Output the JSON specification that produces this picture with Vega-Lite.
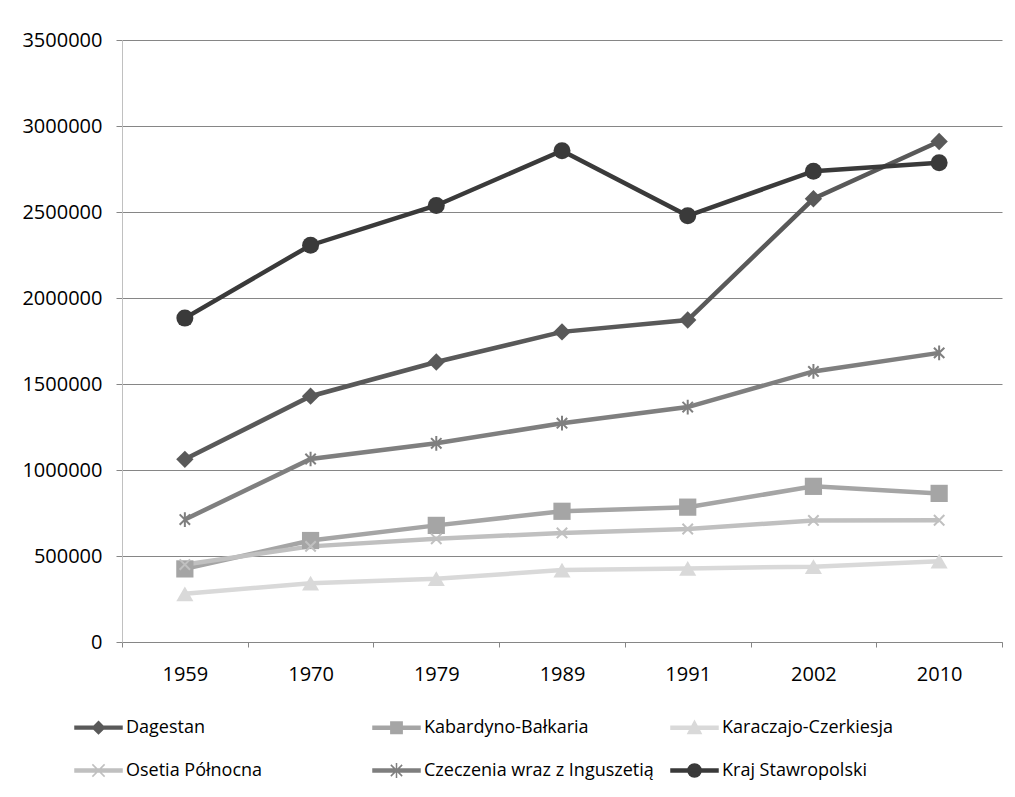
{
  "$schema": "https://vega.github.io/schema/vega-lite/v6.json",
  "width": 880,
  "height": 602,
  "autosize": "none",
  "padding": {"left": 122, "top": 40, "right": 13, "bottom": 155},
  "background": "white",
  "config": {
    "view": {"stroke": null},
    "font": "Open Sans",
    "axis": {"labelFont": "Open Sans", "labelFontSize": 20, "labelColor": "#000000", "title": null},
    "legend": {"labelFont": "Open Sans", "labelFontSize": 18, "labelColor": "#000000", "labelLimit": 400}
  },
  "data": {
    "values": [
      {"year": "1959", "region": "Dagestan", "value": 1062000},
      {"year": "1970", "region": "Dagestan", "value": 1429000},
      {"year": "1979", "region": "Dagestan", "value": 1628000},
      {"year": "1989", "region": "Dagestan", "value": 1803000},
      {"year": "1991", "region": "Dagestan", "value": 1872000},
      {"year": "2002", "region": "Dagestan", "value": 2577000},
      {"year": "2010", "region": "Dagestan", "value": 2910000},
      {"year": "1959", "region": "Kabardyno-Bałkaria", "value": 425000},
      {"year": "1970", "region": "Kabardyno-Bałkaria", "value": 590000},
      {"year": "1979", "region": "Kabardyno-Bałkaria", "value": 678000},
      {"year": "1989", "region": "Kabardyno-Bałkaria", "value": 760000},
      {"year": "1991", "region": "Kabardyno-Bałkaria", "value": 784000},
      {"year": "2002", "region": "Kabardyno-Bałkaria", "value": 905000},
      {"year": "2010", "region": "Kabardyno-Bałkaria", "value": 864000},
      {"year": "1959", "region": "Karaczajo-Czerkiesja", "value": 280000},
      {"year": "1970", "region": "Karaczajo-Czerkiesja", "value": 342000},
      {"year": "1979", "region": "Karaczajo-Czerkiesja", "value": 368000},
      {"year": "1989", "region": "Karaczajo-Czerkiesja", "value": 418000},
      {"year": "1991", "region": "Karaczajo-Czerkiesja", "value": 428000},
      {"year": "2002", "region": "Karaczajo-Czerkiesja", "value": 438000},
      {"year": "2010", "region": "Karaczajo-Czerkiesja", "value": 470000},
      {"year": "1959", "region": "Osetia Północna", "value": 450000},
      {"year": "1970", "region": "Osetia Północna", "value": 556000},
      {"year": "1979", "region": "Osetia Północna", "value": 600000},
      {"year": "1989", "region": "Osetia Północna", "value": 634000},
      {"year": "1991", "region": "Osetia Północna", "value": 657000},
      {"year": "2002", "region": "Osetia Północna", "value": 707000},
      {"year": "2010", "region": "Osetia Północna", "value": 708000},
      {"year": "1959", "region": "Czeczenia wraz z Inguszetią", "value": 712000},
      {"year": "1970", "region": "Czeczenia wraz z Inguszetią", "value": 1064000},
      {"year": "1979", "region": "Czeczenia wraz z Inguszetią", "value": 1155000},
      {"year": "1989", "region": "Czeczenia wraz z Inguszetią", "value": 1272000},
      {"year": "1991", "region": "Czeczenia wraz z Inguszetią", "value": 1366000},
      {"year": "2002", "region": "Czeczenia wraz z Inguszetią", "value": 1573000},
      {"year": "2010", "region": "Czeczenia wraz z Inguszetią", "value": 1681000},
      {"year": "1959", "region": "Kraj Stawropolski", "value": 1883000},
      {"year": "1970", "region": "Kraj Stawropolski", "value": 2307000},
      {"year": "1979", "region": "Kraj Stawropolski", "value": 2538000},
      {"year": "1989", "region": "Kraj Stawropolski", "value": 2856000},
      {"year": "1991", "region": "Kraj Stawropolski", "value": 2478000},
      {"year": "2002", "region": "Kraj Stawropolski", "value": 2737000},
      {"year": "2010", "region": "Kraj Stawropolski", "value": 2786000}
    ]
  },
  "encoding": {
    "x": {
      "field": "year", "type": "ordinal", "bandPosition": 0.5,
      "scale": {"type": "band", "paddingInner": 0, "paddingOuter": 0},
      "axis": {"labelAngle": 0, "tickBand": "extent", "tickSize": 5, "tickColor": "#868686", "domainColor": "#868686", "labelPadding": 17, "grid": false}
    },
    "y": {
      "field": "value", "type": "quantitative",
      "scale": {"domain": [0, 3500000], "nice": false},
      "axis": {"values": [0, 500000, 1000000, 1500000, 2000000, 2500000, 3000000, 3500000], "format": "d", "grid": true, "gridColor": "#868686", "gridWidth": 1, "domainColor": "#c0c0c0", "tickColor": "#868686", "tickSize": 6, "labelPadding": 14}
    }
  },
  "layer": [
    {
      "mark": {"type": "line", "strokeWidth": 4.5},
      "encoding": {
        "color": {
          "field": "region", "type": "nominal", "legend": null,
          "scale": {
            "domain": ["Dagestan", "Kabardyno-Bałkaria", "Karaczajo-Czerkiesja", "Osetia Północna", "Czeczenia wraz z Inguszetią", "Kraj Stawropolski"],
            "range": ["#595959", "#a5a5a5", "#d9d9d9", "#c0c0c0", "#7f7f7f", "#3a3a3a"]
          }
        }
      }
    },
    {
      "transform": [{"filter": {"field": "region", "oneOf": ["Dagestan", "Kabardyno-Bałkaria", "Karaczajo-Czerkiesja", "Kraj Stawropolski"]}}],
      "mark": {"type": "point", "filled": true, "opacity": 1},
      "encoding": {
        "color": {"field": "region", "type": "nominal", "legend": null},
        "shape": {
          "field": "region", "type": "nominal", "legend": null,
          "scale": {
            "domain": ["Dagestan", "Kabardyno-Bałkaria", "Karaczajo-Czerkiesja", "Kraj Stawropolski"],
            "range": ["diamond", "square", "triangle-up", "circle"]
          }
        },
        "size": {
          "field": "region", "type": "nominal", "legend": null,
          "scale": {
            "domain": ["Dagestan", "Kabardyno-Bałkaria", "Karaczajo-Czerkiesja", "Kraj Stawropolski"],
            "range": [300, 289, 256, 324]
          }
        }
      }
    },
    {
      "transform": [{"filter": {"field": "region", "oneOf": ["Osetia Północna", "Czeczenia wraz z Inguszetią"]}}],
      "mark": {"type": "point", "filled": false, "strokeWidth": 2, "opacity": 1, "size": 300},
      "encoding": {
        "color": {"field": "region", "type": "nominal", "legend": null},
        "shape": {
          "field": "region", "type": "nominal", "legend": null,
          "scale": {
            "domain": ["Osetia Północna", "Czeczenia wraz z Inguszetią"],
            "range": ["M-0.6,-0.6L0.6,0.6M-0.6,0.6L0.6,-0.6", "M-0.6,-0.6L0.6,0.6M-0.6,0.6L0.6,-0.6M0,-0.85L0,0.85"]
          }
        }
      }
    },
    {
      "mark": {"type": "point", "filled": true, "opacity": 1, "size": 2209, "strokeWidth": 1.5, "clip": true},
      "encoding": {
        "y": {"datum": -1500000, "type": "quantitative"},
        "color": {"field": "region", "type": "nominal", "legend": null},
        "shape": {
          "field": "region", "type": "nominal",
          "scale": {
            "domain": ["Dagestan", "Kabardyno-Bałkaria", "Karaczajo-Czerkiesja", "Osetia Północna", "Czeczenia wraz z Inguszetią", "Kraj Stawropolski"],
            "range": [
              "M-1,-0.06L1,-0.06L1,0.06L-1,0.06Z M0,-0.26L0.26,0L0,0.26L-0.26,0Z",
              "M-1,-0.06L1,-0.06L1,0.06L-1,0.06Z M-0.24,-0.24L0.24,-0.24L0.24,0.24L-0.24,0.24Z",
              "M-1,-0.06L1,-0.06L1,0.06L-1,0.06Z M0,-0.28L0.28,0.24L-0.28,0.24Z",
              "M-1,-0.06L1,-0.06L1,0.06L-1,0.06Z M-0.26,-0.26L0.26,0.26M-0.26,0.26L0.26,-0.26",
              "M-1,-0.06L1,-0.06L1,0.06L-1,0.06Z M-0.24,-0.24L0.24,0.24M-0.24,0.24L0.24,-0.24M0,-0.32L0,0.32",
              "M-1,-0.06L1,-0.06L1,0.06L-1,0.06Z M0.28,0A0.28,0.28 0 1,1 -0.28,0A0.28,0.28 0 1,1 0.28,0Z"
            ]
          },
          "legend": {
            "title": null, "orient": "none", "legendX": -48, "legendY": 662,
            "direction": "horizontal", "columns": 3, "gridAlign": "all",
            "columnPadding": 14, "rowPadding": 8, "padding": 0,
            "symbolSize": 2209, "symbolStrokeWidth": 1.5,
            "symbolFillColor": {"expr": "datum.value === 'Dagestan' ? '#595959' : datum.value === 'Kabardyno-Bałkaria' ? '#a5a5a5' : datum.value === 'Karaczajo-Czerkiesja' ? '#d9d9d9' : datum.value === 'Osetia Północna' ? '#c0c0c0' : datum.value === 'Czeczenia wraz z Inguszetią' ? '#7f7f7f' : '#3a3a3a'"},
            "symbolStrokeColor": {"expr": "datum.value === 'Dagestan' ? '#595959' : datum.value === 'Kabardyno-Bałkaria' ? '#a5a5a5' : datum.value === 'Karaczajo-Czerkiesja' ? '#d9d9d9' : datum.value === 'Osetia Północna' ? '#c0c0c0' : datum.value === 'Czeczenia wraz z Inguszetią' ? '#7f7f7f' : '#3a3a3a'"},
            "labelOffset": 3, "labelFontSize": 18, "labelFont": "Open Sans", "labelLimit": 400
          }
        }
      }
    }
  ],
  "resolve": {"scale": {"shape": "independent", "size": "independent"}}
}
